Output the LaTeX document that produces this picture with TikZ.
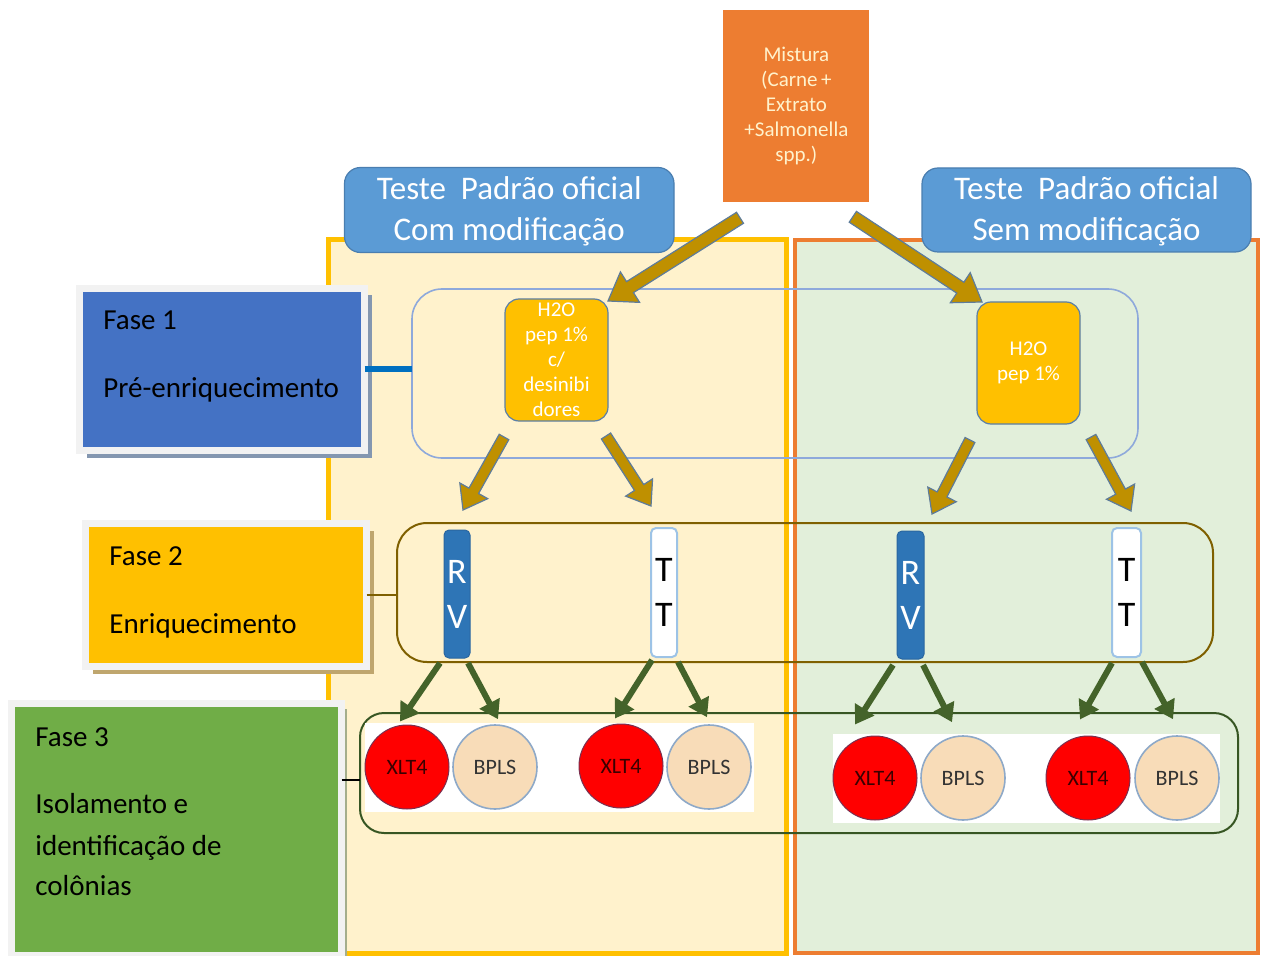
\documentclass[tikz,border=0pt]{standalone}
\usepackage{fontspec}
\setmainfont{Carlito}
\usetikzlibrary{calc,arrows.meta,shadows}

\definecolor{panelYellow}{HTML}{FFF2CC}
\definecolor{panelYellowLine}{HTML}{FFC000}
\definecolor{panelGreen}{HTML}{E2EFDA}
\definecolor{panelOrangeLine}{HTML}{ED7D31}
\definecolor{mixOrange}{HTML}{ED7D31}
\definecolor{mixText}{HTML}{FFF2CC}
\definecolor{titleBlue}{HTML}{5B9BD5}
\definecolor{titleLine}{HTML}{4A7EB0}
\definecolor{faseBlue}{HTML}{4472C4}
\definecolor{faseYellow}{HTML}{FFC000}
\definecolor{faseGreen}{HTML}{70AD47}
\definecolor{frameGray}{HTML}{F2F2F2}
\definecolor{shadowBlue}{HTML}{8497B0}
\definecolor{shadowTan}{HTML}{BFA66E}
\definecolor{shadowOlive}{HTML}{A4AE8C}
\definecolor{groupBlue}{HTML}{8EA9DB}
\definecolor{groupBrown}{HTML}{7F6000}
\definecolor{groupGreen}{HTML}{375623}
\definecolor{mediumGold}{HTML}{FFC000}
\definecolor{mediumLine}{HTML}{5A7FA8}
\definecolor{arrowGold}{HTML}{BF9000}
\definecolor{arrowLine}{HTML}{5E7C9A}
\definecolor{arrowGreen}{HTML}{44632A}
\definecolor{rvBlue}{HTML}{2E75B6}
\definecolor{rvLine}{HTML}{2A66A0}
\definecolor{ttLine}{HTML}{9DC3E6}
\definecolor{xltRed}{HTML}{FF0000}
\definecolor{xltLine}{HTML}{7A3050}
\definecolor{xltText}{HTML}{3A0000}
\definecolor{bplsTan}{HTML}{F8DCB8}
\definecolor{bplsLine}{HTML}{8EA9C8}
\definecolor{bplsText}{HTML}{333333}
\definecolor{linkBlue}{HTML}{0070C0}

\tikzset{
    fasebox/.style={draw=frameGray,line width=3.5pt,anchor=north west,inner sep=0pt,outer sep=0pt},
    fasetext/.style={anchor=base west,inner sep=0pt,font=\fontsize{14.5}{17}\selectfont},
    titlebox/.style={draw=titleLine,line width=0.6pt,fill=titleBlue,rounded corners=8pt,anchor=north west,
        inner sep=0pt,outer sep=0pt,text=white,align=center,font=\fontsize{16.5}{20.5}\selectfont},
    groupbox/.style={rounded corners=15pt,anchor=north west,inner sep=0pt,outer sep=0pt},
    mediumbox/.style={draw=mediumLine,line width=0.6pt,fill=mediumGold,rounded corners=7pt,anchor=north west,
        text=white,align=center,inner sep=0pt,outer sep=0pt,font=\fontsize{10.5}{12.5}\selectfont},
    tubebox/.style={anchor=north west,rounded corners=2.5pt,inner sep=0pt,outer sep=0pt,align=center,
        font=\fontsize{18}{22.5}\selectfont},
    plate/.style={circle,minimum size=42pt,inner sep=0pt,font=\fontsize{11}{13}\selectfont},
    xlt/.style={plate,fill=xltRed,draw=xltLine,line width=0.5pt,text=xltText},
    bpls/.style={plate,fill=bplsTan,draw=bplsLine,line width=0.8pt,text=bplsText},
    goldarrow/.style={fill=arrowGold,draw=arrowLine,line width=0.6pt},
    greenarrow/.style={draw=arrowGreen,line width=3pt,-{Triangle[width=11pt,length=9pt]}}
}

% Block arrow: tail, tip, half shaft, half head, head length.
\newcommand{\goldArrow}[5]{%
    \coordinate (gaBase) at ($(#2)!#5!(#1)$);
    \draw[goldarrow]($(#1)!#3!90:(#2)$)--($(gaBase)!#3!-90:(#1)$)--($(gaBase)!#4!-90:(#1)$)--(#2)
        --($(gaBase)!#4!90:(#1)$)--($(gaBase)!#3!90:(#1)$)--($(#1)!#3!-90:(#2)$)--cycle;}

\begin{document}
\begin{tikzpicture}[x=0.5pt,y=-0.5pt]

        % -----------
        % Parameters.
        % -----------

        \pgfmathsetmacro{\yPlatesLeft}{767}     % y-position of left plates.
        \pgfmathsetmacro{\yPlatesRight}{778}    % y-position of right plates.
        \pgfmathsetmacro{\yPanelTop}{240}       % Top of the two panels.
        \pgfmathsetmacro{\yPanelBottom}{953}    % Bottom of the two panels.

        \useasboundingbox(0,0)rectangle(1261,956);

        % --------
        % Drawing.
        % --------

        % Panels.
        \filldraw[fill=panelYellow,draw=panelYellowLine,line width=2.5pt](328.5,\yPanelTop)rectangle(786.5,\yPanelBottom);
        \filldraw[fill=panelGreen,draw=panelOrangeLine,line width=2pt](794.5,\yPanelTop)rectangle(1257.5,\yPanelBottom);

        % Mixture and test titles.
        \node[fill=mixOrange,anchor=north west,minimum width=73pt,minimum height=96pt,inner sep=0pt,
            text=mixText,align=center,font=\fontsize{10.5}{12.5}\selectfont](mix)at(723,10)
            {Mistura\\(Carne\,+\\Extrato\\+Salmonella\\spp.)};
        \node[titlebox,minimum width=164.75pt,minimum height=42.5pt](titleL)at(344.5,167.5)
            {\rule{0pt}{1pt}\\[-9pt]Teste\ \ Padrão oficial\\Com modificação};
        \node[titlebox,minimum width=164.5pt,minimum height=42pt](titleR)at(922,168)
            {\rule{0pt}{1pt}\\[-9pt]Teste\ \ Padrão oficial\\Sem modificação};

        % Phase boxes.
        \node[fasebox,fill=faseBlue,minimum width=142.5pt,minimum height=81pt,
            drop shadow={shadow xshift=3.5pt,shadow yshift=-3.5pt,fill=shadowBlue,opacity=1}](f1)at(79.5,288.5){};
        \node[fasebox,fill=faseYellow,minimum width=140.5pt,minimum height=71.5pt,
            drop shadow={shadow xshift=3.5pt,shadow yshift=-3.5pt,fill=shadowTan,opacity=1}](f2)at(85.5,523.5){};
        \node[fasebox,fill=faseGreen,minimum width=165.25pt,minimum height=126pt,
            drop shadow={shadow xshift=2.5pt,shadow yshift=-2.5pt,fill=shadowOlive,opacity=1}](f3)at(11,703.5){};

        \node[fasetext](f1title)at(103,330){Fase 1};
        \node[fasetext](f1name)at(103,398){Pré-enriquecimento};
        \node[fasetext](f2title)at(109,565){Fase 2};
        \node[fasetext](f2name)at(109,633){Enriquecimento};
        \node[fasetext](f3title)at(35,746){Fase 3};
        \node[fasetext](f3name)at(35,813){Isolamento e};
        \node[fasetext](f3nameb)at(35,855){identificação de};
        \node[fasetext](f3namec)at(35,895){colônias};

        % Phase groups.
        \node[groupbox,draw=groupBlue,line width=0.8pt,minimum width=363pt,minimum height=84.5pt](g1)at(412,289){};
        \node[groupbox,draw=groupBrown,line width=1pt,minimum width=408pt,minimum height=69.5pt](g2)at(397,523){};
        \node[groupbox,draw=groupGreen,line width=1pt,rounded corners=12pt,minimum width=439pt,minimum height=60pt](g3)at(360,713){};

        % Links from phases to groups.
        \draw[linkBlue,line width=3pt](f1.east)--(f1.east-|g1.west);
        \draw[groupBrown,line width=0.6pt](f2.east)--(f2.east-|g2.west);
        \coordinate(g3link)at($(g3.west)+(0,7)$);
        \draw[black,line width=0.6pt](g3link-|f3.east)--(g3link);

        % Pre-enrichment media.
        \node[mediumbox,minimum width=51.5pt,minimum height=61pt](hL)at(505,299)
            {H2O\\pep 1\%\\c/\\desinibi\\dores};
        \node[mediumbox,minimum width=51.5pt,minimum height=61pt](hR)at(977,302)
            {H2O\\pep 1\%};

        % Enrichment tubes.
        \node[tubebox,fill=rvBlue,draw=rvLine,line width=0.5pt,text=white,minimum width=13pt,minimum height=64pt](rvL)at(444,530){R\\V};
        \node[tubebox,fill=white,draw=ttLine,line width=1pt,minimum width=13pt,minimum height=64.5pt](ttL)at(651,528){T\\T};
        \node[tubebox,fill=rvBlue,draw=rvLine,line width=0.5pt,text=white,minimum width=13.5pt,minimum height=64pt](rvR)at(897,531){R\\V};
        \node[tubebox,fill=white,draw=ttLine,line width=1pt,minimum width=14.5pt,minimum height=64.5pt](ttR)at(1112,528){T\\T};

        % Plates.
        \fill[white](365,723)rectangle(754,812);
        \fill[white](833,734)rectangle(1220,823);
        \foreach \name/\x/\y in {xltA/407/\yPlatesLeft,xltB/621/766,xltC/875/\yPlatesRight,xltD/1088/\yPlatesRight}
            \node[xlt](\name)at(\x,\y){XLT4};
        \foreach \name/\x/\y in {bplsA/495/\yPlatesLeft,bplsB/709/\yPlatesLeft,bplsC/963/\yPlatesRight,bplsD/1177/\yPlatesRight}
            \node[bpls](\name)at(\x,\y){BPLS};

        % Gold arrows.
        \coordinate(mixTailL)at($(mix.south west)+(17,15)$);
        \coordinate(mixTailR)at($(mix.south east)+(-17,14)$);
        \coordinate(hLTip)at($(hL.north east)+(0,2)$);
        \coordinate(hRTip)at($(hR.north west)+(5,0)$);
        \coordinate(hLTailA)at($(hL.south west)+(-1,16)$);
        \coordinate(hLTailB)at($(hL.south east)+(-2,15)$);
        \coordinate(hRTailA)at($(hR.south west)+(-7,16)$);
        \coordinate(hRTailB)at($(hR.south east)+(11,13)$);
        \coordinate(rvLTip)at($(rvL.north)+(6,-20)$);
        \coordinate(ttLTip)at($(ttL.north)+(-13,-22)$);
        \coordinate(rvRTip)at($(rvR.north)+(21.5,-17)$);
        \coordinate(ttRTip)at($(ttR.north)+(4.5,-17)$);

        \goldArrow{mixTailL}{hLTip}{3.25pt}{9pt}{13pt}
        \goldArrow{mixTailR}{hRTip}{3.25pt}{9pt}{13pt}
        \goldArrow{hLTailA}{rvLTip}{2.75pt}{8pt}{11pt}
        \goldArrow{hLTailB}{ttLTip}{2.75pt}{8pt}{11pt}
        \goldArrow{hRTailA}{rvRTip}{2.75pt}{8pt}{11pt}
        \goldArrow{hRTailB}{ttRTip}{2.75pt}{8pt}{11pt}

        % Green arrows.
        \draw[greenarrow]($(rvL.south)+(-17,5)$)--($(xltA.north)+(-7,-3)$);
        \draw[greenarrow]($(rvL.south)+(11,5)$)--($(bplsA.north)+(3,-5)$);
        \draw[greenarrow]($(ttL.south)+(-12,3)$)--($(xltB.north)+(-6,-5)$);
        \draw[greenarrow]($(ttL.south)+(14,5)$)--($(bplsB.north)+(-2,-7)$);
        \draw[greenarrow]($(rvR.south)+(-17.5,6)$)--($(xltC.north)+(-20,-11)$);
        \draw[greenarrow]($(rvR.south)+(12.5,6)$)--($(bplsC.north)+(-11,-13)$);
        \draw[greenarrow]($(ttR.south)+(-14.5,6)$)--($(xltD.north)+(-8,-16)$);
        \draw[greenarrow]($(ttR.south)+(15.5,5)$)--($(bplsD.north)+(-4,-16)$);

    \end{tikzpicture}
\end{document}
